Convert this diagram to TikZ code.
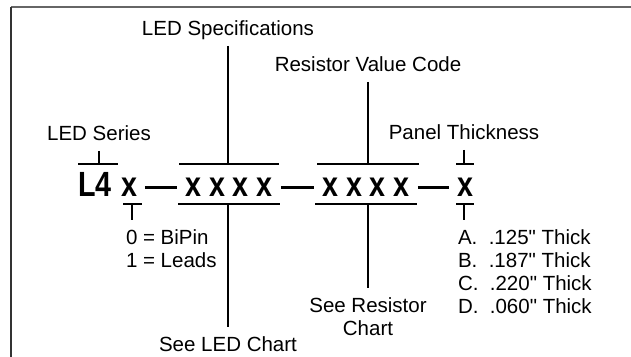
\documentclass[tikz,border=0pt]{standalone}
\usepackage{fontspec}
\setmainfont{Liberation Sans}
\newfontfamily\lblfont{Liberation Sans}
\newfontfamily\codefont[FakeStretch=0.82]{Liberation Sans}
\usetikzlibrary{positioning,calc}

\begin{document}
\begin{tikzpicture}[x=0.5pt, y=-0.5pt, line width=1pt,
  code/.style={font=\codefont\bfseries\fontsize{17.5}{20}\selectfont, inner sep=3.5pt, anchor=base},
  lbl/.style={font=\lblfont\fontsize{10.25}{11.4}\selectfont, inner sep=0pt, outer sep=5pt},
  toplbl/.style={lbl, text depth=0pt, anchor=base},
  sepbar/.style={line width=1.5pt}]
\useasboundingbox (0,0) rectangle (631,357);
\draw[black!60] (11,7) -- (631,7);
\draw[black!80] (11,7) -- (11,357);
% part number
\node[code] (series) at (95,197) {L4};
\node[code] (pin) at (129,197) {x};
\node[code] (spec) at (229,197) {x x x x};
\node[code] (res) at (366,197) {x x x x};
\node[code] (panel) at (465,197) {x};
\draw[sepbar] (pin) -- (spec);
\draw[sepbar] (spec) -- (res);
\draw[sepbar] (res) -- (panel);
% bars over and under the fields
\coordinate (seriestop) at (99,164);
\coordinate (spectop) at (228,164);
\coordinate (restop) at (368,164);
\coordinate (paneltop) at (464,164);
\coordinate (pinbot) at (132,204);
\coordinate (specbot) at (228,204);
\coordinate (resbot) at (368,204);
\coordinate (panelbot) at (464,204);
\draw ($(seriestop)+(-21,0)$) -- ++(40,0);
\draw ($(spectop)+(-49,0)$) -- ++(100,0);
\draw ($(restop)+(-51,0)$) -- ++(102,0);
\draw ($(paneltop)+(-8,0)$) -- ++(18,0);
\draw ($(pinbot)+(-9,0)$) -- ++(19,0);
\draw ($(specbot)+(-50,0)$) -- ++(102,0);
\draw ($(resbot)+(-53,0)$) -- ++(102,0);
\draw ($(panelbot)+(-8,0)$) -- ++(18,0);
% labels above
\node[toplbl] (seriesname) at (99,141) {LED Series};
\node[toplbl] (specname) at (228,36) {LED Specifications};
\node[toplbl] (resname) at (368,72) {Resistor Value Code};
\node[toplbl] (panelname) at (464,140) {Panel Thickness};
\draw (seriesname) -- (seriestop);
\draw (specname) -- (spectop);
\draw (resname) -- (restop);
\draw (panelname) -- (paneltop);
% labels below
\node[lbl, anchor=north] (ledchart) at (228,327) {See LED Chart};
\node[lbl, anchor=north, align=center] (reschart) at (368,288) {See Resistor\\Chart};
\node[lbl, anchor=north west, align=left] (pinopt) at (116,220) {0 = BiPin\\1 = Leads};
\node[lbl, anchor=north west, align=left] (thick) at (448,220)
  {A.\ \ .125" Thick\\B.\ \ .187" Thick\\C.\ \ .220" Thick\\D.\ \ .060" Thick};
\draw (specbot) -- (ledchart);
\draw (resbot) -- (reschart);
\draw (pinbot) -- (pinbot |- pinopt.north);
\draw (panelbot) -- (panelbot |- thick.north);
\end{tikzpicture}
\end{document}
